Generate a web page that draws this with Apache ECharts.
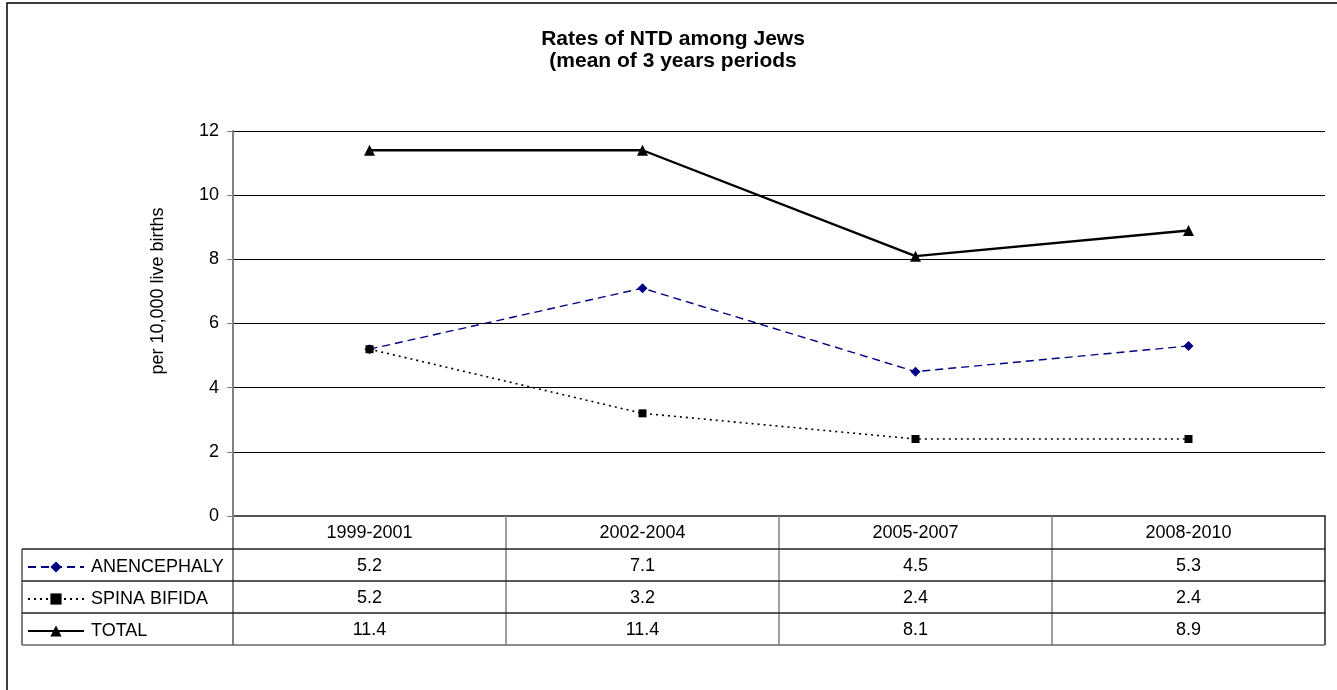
<!DOCTYPE html>
<html>
<head>
<meta charset="utf-8">
<script src="https://cdn.jsdelivr.net/npm/echarts@6/dist/echarts.min.js"></script>
<style>
html,body{margin:0;padding:0;background:#fff;}
#c{width:1337px;height:690px;}
</style>
</head>
<body>
<div id="c"></div>
<script>
var categories = ['1999-2001', '2002-2004', '2005-2007', '2008-2010'];
var anencephaly = [5.2, 7.1, 4.5, 5.3];
var spinaBifida = [5.2, 3.2, 2.4, 2.4];
var total = [11.4, 11.4, 8.1, 8.9];
var yTicks = [0, 2, 4, 6, 8, 10, 12];
var seriesNames = ['ANENCEPHALY', 'SPINA BIFIDA', 'TOTAL'];
var seriesData = [anencephaly, spinaBifida, total];

var FONT = '"Liberation Sans", Arial, sans-serif';
var chart = echarts.init(document.getElementById('c'));

var seriesStyles = [
  {color: '#000080', type: [8, 5], width: 1.4, symbol: 'diamond', size: 10},
  {color: '#000000', type: [2, 4], width: 1.6, symbol: 'rect', size: 8},
  {color: '#000000', type: 'solid', width: 2.4, symbol: 'triangle', size: 11}
];

var series = seriesNames.map(function (n, i) {
  var s = seriesStyles[i];
  return {
    name: n, type: 'line', data: seriesData[i],
    symbol: s.symbol, symbolSize: s.size,
    lineStyle: {color: s.color, type: s.type, width: s.width},
    itemStyle: {color: s.color},
    emphasis: {disabled: true},
    animation: false, z: 3 + i
  };
});

chart.setOption({
  animation: false,
  textStyle: {fontFamily: FONT},
  title: {
    text: 'Rates of NTD among Jews\n(mean of 3 years periods',
    left: 673, top: 28, textAlign: 'center', padding: 0,
    textStyle: {fontFamily: FONT, fontSize: 21, fontWeight: 'bold', color: '#000', lineHeight: 22}
  },
  grid: {left: 233, top: 131, right: 12, bottom: 174, containLabel: false},
  legend: {
    orient: 'vertical', left: 27, top: 558, padding: 0,
    itemWidth: 56, itemHeight: 14, itemGap: 14,
    selectedMode: false,
    textStyle: {fontFamily: FONT, fontSize: 18, color: '#000', padding: [0, 0, 0, 2]},
    data: seriesNames
  },
  xAxis: {
    type: 'category', data: categories, boundaryGap: true,
    axisLine: {lineStyle: {color: '#555', width: 2}},
    axisTick: {show: false},
    axisLabel: {margin: 8, fontSize: 18, color: '#000', fontFamily: FONT},
    splitLine: {show: false}
  },
  yAxis: {
    type: 'value', min: 0, max: 12, interval: 2,
    axisLine: {show: true, lineStyle: {color: '#808080', width: 2}},
    axisTick: {show: true, length: 6, inside: false, lineStyle: {color: '#808080', width: 1}},
    axisLabel: {margin: 14, fontSize: 18, color: '#000', fontFamily: FONT,
      formatter: function (v) { return yTicks.indexOf(v) >= 0 ? String(v) : ''; }},
    splitLine: {show: true, lineStyle: {color: '#000', width: 1}}
  },
  series: series
});

// Build the data table from the library's own scales
var centers = categories.map(function (c, i) { return chart.convertToPixel({xAxisIndex: 0}, i); });
var half = (centers[1] - centers[0]) / 2;
var bounds = centers.map(function (c) { return c - half; });
bounds.push(centers[centers.length - 1] + half);
var y0 = chart.convertToPixel({yAxisIndex: 0}, 0);
var yTop = chart.convertToPixel({yAxisIndex: 0}, 12);
var headerH = 33, rowH = 32;
var tableLeft = 22;
var rowTop = y0 + headerH;
var tableBottom = rowTop + rowH * seriesNames.length;
var left = bounds[0], right = bounds[bounds.length - 1];

var g = [];
// outer frame
g.push({type: 'rect', shape: {x: 7, y: 3, width: 1345, height: 700}, style: {fill: 'none', stroke: '#000', lineWidth: 1.5}, silent: true});
// axis title
g.push({type: 'text', x: 158, y: 291, rotation: Math.PI / 2,
  style: {text: 'per 10,000 live births', fontSize: 18, fontFamily: FONT, fill: '#000', align: 'center', verticalAlign: 'middle'}, silent: true});
// vertical separators
bounds.forEach(function (b, i) {
  g.push({type: 'line', shape: {x1: b, y1: (i === 0 ? yTop : y0), x2: b, y2: tableBottom},
    style: {stroke: i === bounds.length - 1 ? '#222' : '#808080', lineWidth: i === 0 ? 2 : 1.5}, silent: true, z: 10});
});
// left table edge
g.push({type: 'line', shape: {x1: tableLeft, y1: rowTop, x2: tableLeft, y2: tableBottom}, style: {stroke: '#555', lineWidth: 1.5}, silent: true, z: 10});
// horizontal lines
for (var r = 0; r <= seriesNames.length; r++) {
  var yy = rowTop + r * rowH;
  g.push({type: 'line', shape: {x1: tableLeft, y1: yy, x2: right, y2: yy},
    style: {stroke: r === seriesNames.length ? '#666' : '#222', lineWidth: 1.5}, silent: true, z: 10});
}
// values
seriesData.forEach(function (arr, r) {
  arr.forEach(function (v, i) {
    g.push({type: 'text', x: centers[i], y: rowTop + r * rowH + rowH / 2 + 1,
      style: {text: v.toFixed(1), fontSize: 18, fontFamily: FONT, fill: '#000', align: 'center', verticalAlign: 'middle'}, silent: true, z: 11});
  });
});

chart.setOption({graphic: g});
</script>
</body>
</html>
